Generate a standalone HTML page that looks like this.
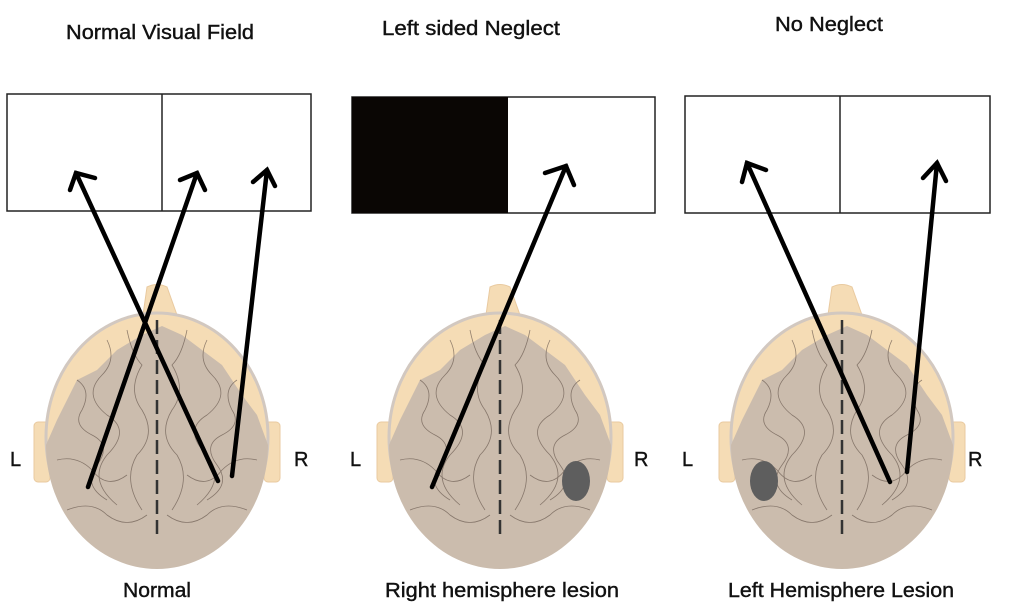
<!DOCTYPE html>
<html><head><meta charset="utf-8"><style>
html,body{margin:0;padding:0;background:#fff;}
svg{display:block;}
text{font-family:"Liberation Sans",sans-serif;font-size:20px;fill:#111;stroke:#111;stroke-width:0.4;}
</style></head><body>
<svg width="1012" height="612" viewBox="0 0 1012 612" xmlns="http://www.w3.org/2000/svg">
<defs>
<g id="brain">
  <path d="M-14,315 L-10,287 Q0,282 10,287 L20,315 Z" fill="#f5dcb5" stroke="#e9caa0"/>
  <rect x="-123" y="422" width="16" height="60" rx="4" fill="#f5dcb5" stroke="#e9caa0"/>
  <rect x="107" y="422" width="16" height="60" rx="4" fill="#f5dcb5" stroke="#e9caa0"/>
  <ellipse cx="0" cy="437" rx="111" ry="124" fill="#f5dcb5" stroke="#d2c8c0" stroke-width="3"/>
  <path d="M-111,445 L-100,420 L-90,400 L-80,380 L-60,370 L-40,350 L-15,335 L5,326 L25,335 L45,350 L65,365 L85,395 L100,415 L111,445 A111,124 0 0 1 -111,445 Z" fill="#cbbcad"/>
  <g fill="none" stroke="#6a5a50" stroke-width="0.8" opacity="0.7">
    <path d="M-80,380 q15,10 5,30 q-10,15 10,25 q20,10 5,30 q-15,20 10,35"/>
    <path d="M-50,340 q10,20 -5,35 q-20,20 5,40 q25,15 0,40 q-20,25 10,50"/>
    <path d="M-30,330 q5,25 15,35 q-15,25 0,45 q15,25 -5,45 q-15,25 5,55"/>
    <path d="M80,380 q-15,10 -5,30 q10,15 -10,25 q-20,10 -5,30 q15,20 -10,35"/>
    <path d="M50,340 q-10,20 5,35 q20,20 -5,40 q-25,15 0,40 q20,25 -10,50"/>
    <path d="M30,330 q-5,25 -15,35 q15,25 0,45 q-15,25 5,45 q15,25 -5,55"/>
    <path d="M-100,460 q20,-5 35,10 q15,20 35,5"/>
    <path d="M100,460 q-20,-5 -35,10 q-15,20 -35,5"/>
    <path d="M-90,510 q25,-10 40,5 q20,15 40,0"/>
    <path d="M90,510 q-25,-10 -40,5 q-20,15 -40,0"/>
  </g>
  <line x1="0" y1="320" x2="0" y2="535" stroke="#333" stroke-width="2.5" stroke-dasharray="14,6"/>
</g>
</defs>

<text x="160" y="39" text-anchor="middle" textLength="188" lengthAdjust="spacingAndGlyphs">Normal Visual Field</text>
<text x="471" y="35" text-anchor="middle" textLength="178" lengthAdjust="spacingAndGlyphs">Left  sided Neglect</text>
<text x="829" y="31" text-anchor="middle" textLength="108" lengthAdjust="spacingAndGlyphs">No Neglect</text>

<rect x="7" y="94" width="304" height="117" fill="#fff" stroke="#222" stroke-width="1.5"/>
<line x1="162" y1="94" x2="162" y2="211" stroke="#222" stroke-width="1.5"/>
<rect x="352" y="97" width="303" height="116" fill="#fff" stroke="#222" stroke-width="1.5"/>
<rect x="352" y="97" width="156" height="116" fill="#0a0604"/>
<rect x="685" y="96" width="305" height="117" fill="#fff" stroke="#222" stroke-width="1.5"/>
<line x1="840" y1="96" x2="840" y2="213" stroke="#222" stroke-width="1.5"/>

<use href="#brain" transform="translate(157,0)"/>
<use href="#brain" transform="translate(500,0)"/>
<use href="#brain" transform="translate(842,0)"/>

<ellipse cx="576" cy="481" rx="14" ry="20" fill="#5e5e5e"/>
<ellipse cx="764" cy="481" rx="14" ry="20" fill="#5e5e5e"/>

<g stroke="#000" stroke-width="4.5" fill="none" stroke-linecap="round">
  <line x1="88" y1="487" x2="197" y2="173"/><polyline points="180,180 197,173 205,190"/>
  <line x1="218" y1="481" x2="76" y2="173"/><polyline points="70,190 76,173 95,178"/>
  <line x1="232" y1="476" x2="267" y2="170"/><polyline points="253,182 267,170 275,186"/>
  <line x1="432" y1="487" x2="566" y2="166"/><polyline points="545,173 566,166 574,185"/>
  <line x1="890" y1="482" x2="747" y2="163"/><polyline points="742,182 747,163 766,170"/>
  <line x1="907" y1="472" x2="937" y2="163"/><polyline points="923,178 937,163 946,181"/>
</g>

<text x="10" y="466">L</text>
<text x="294" y="466">R</text>
<text x="350" y="466">L</text>
<text x="634" y="466">R</text>
<text x="682" y="466">L</text>
<text x="968" y="466">R</text>

<text x="157" y="597" text-anchor="middle" textLength="68" lengthAdjust="spacingAndGlyphs">Normal</text>
<text x="502" y="597" text-anchor="middle" textLength="234" lengthAdjust="spacingAndGlyphs">Right hemisphere lesion</text>
<text x="841" y="597" text-anchor="middle" textLength="226" lengthAdjust="spacingAndGlyphs">Left Hemisphere Lesion</text>
</svg>
</body></html>
